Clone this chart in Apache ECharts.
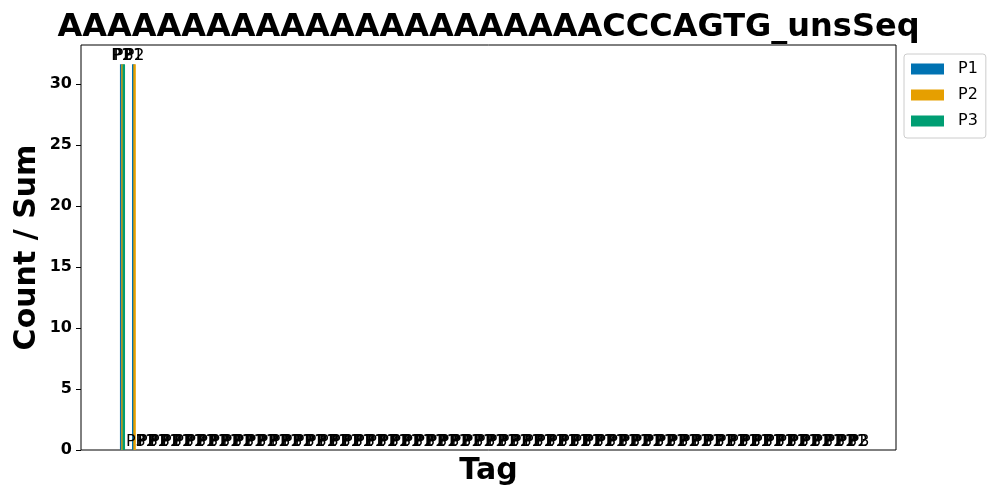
<!DOCTYPE html>
<html>
<head>
<meta charset="utf-8">
<script src="https://cdn.jsdelivr.net/npm/echarts@6/dist/echarts.min.js"></script>
<style>html,body{margin:0;padding:0;background:#fff}#c{width:1000px;height:500px}</style>
</head>
<body>
<div id="c"></div>
<script>
// Tag positions (hidden tick labels in the reference)
const tagIndex = [0,1,2,3,4,5,6,7,8,9,10,11,12,13,14,15,16,17,18,19,20,21,22,23,24,25,26,27,28,29,30,31,32,33,34,35,36,37,38,39,40,41,42,43,44,45,46,47,48,49,50,51,52,53,54,55,56,57,58,59,60,61];
const seriesNames = ['P1', 'P2', 'P3'];
const p1Values = [31.6,31.6,0,0,0,0,0,0,0,0,0,0,0,0,0,0,0,0,0,0,0,0,0,0,0,0,0,0,0,0,0,0,0,0,0,0,0,0,0,0,0,0,0,0,0,0,0,0,0,0,0,0,0,0,0,0,0,0,0,0,0,0];
const p2Values = [31.6,31.6,0,0,0,0,0,0,0,0,0,0,0,0,0,0,0,0,0,0,0,0,0,0,0,0,0,0,0,0,0,0,0,0,0,0,0,0,0,0,0,0,0,0,0,0,0,0,0,0,0,0,0,0,0,0,0,0,0,0,0,0];
const p3Values = [31.6,0,0,0,0,0,0,0,0,0,0,0,0,0,0,0,0,0,0,0,0,0,0,0,0,0,0,0,0,0,0,0,0,0,0,0,0,0,0,0,0,0,0,0,0,0,0,0,0,0,0,0,0,0,0,0,0,0,0,0,0,0];
const yTickValues = [0, 5, 10, 15, 20, 25, 30];
const titleText = 'AAAAAAAAAAAAAAAAAAAAAACCCAGTG_unsSeq';

const colors = ['#0072B2', '#E69F00', '#009E73'];
const font = 'DejaVu Sans';
const allValues = [p1Values, p2Values, p3Values];

const chart = echarts.init(document.getElementById('c'), null, {renderer: 'canvas'});
const series = seriesNames.map((name, k) => ({
  name: name,
  type: 'bar',
  data: tagIndex.map((x, i) => [x, allValues[k][i]]),
  barWidth: 2.5,
  barGap: '-48%',
  itemStyle: {color: colors[k]},
  label: {
    show: true,
    position: 'top',
    distance: 0,
    formatter: name,
    color: '#000',
    fontFamily: font,
    fontSize: 16
  }
}));

chart.setOption({
  animation: false,
  color: colors,
  title: {
    text: titleText,
    left: 488.5,
    top: 12,
    padding: 0,
    textAlign: 'center',
    textStyle: {fontFamily: font, fontWeight: 'bold', fontSize: 32, color: '#000'}
  },
  legend: {
    data: seriesNames,
    orient: 'vertical',
    left: 904,
    top: 54,
    icon: 'rect',
    itemWidth: 33,
    itemHeight: 11,
    itemGap: 10,
    padding: [7, 8, 9, 7],
    borderColor: '#cccccc',
    borderWidth: 1,
    borderRadius: 3,
    textStyle: {fontFamily: font, fontSize: 16, color: '#000', lineHeight: 16, padding: [0, 0, 0, 9]}
  },
  grid: {
    left: 81, right: 104, top: 45, bottom: 50,
    show: true, borderColor: '#000', borderWidth: 1
  },
  xAxis: {
    type: 'value',
    min: -3.44,
    max: 64.14,
    name: 'Tag',
    nameLocation: 'middle',
    nameGap: 6,
    nameTextStyle: {fontFamily: font, fontWeight: 'bold', fontSize: 30, color: '#000', verticalAlign: 'top'},
    axisLine: {show: false, onZero: false},
    axisTick: {show: false},
    axisLabel: {show: false},
    splitLine: {show: false}
  },
  yAxis: {
    type: 'value',
    min: 0,
    max: 33.18,
    interval: 5,
    name: 'Count / Sum',
    nameLocation: 'middle',
    nameGap: 39,
    nameMoveOverlap: false,
    nameTextStyle: {fontFamily: font, fontWeight: 'bold', fontSize: 30, color: '#000'},
    axisLine: {show: false, onZero: false},
    axisTick: {show: true, length: 5, lineStyle: {color: '#000'}, customValues: yTickValues},
    axisLabel: {fontFamily: font, fontWeight: 'bold', fontSize: 16, color: '#000', margin: 9, customValues: yTickValues},
    splitLine: {show: false}
  },
  series: series
});
</script>
</body>
</html>
